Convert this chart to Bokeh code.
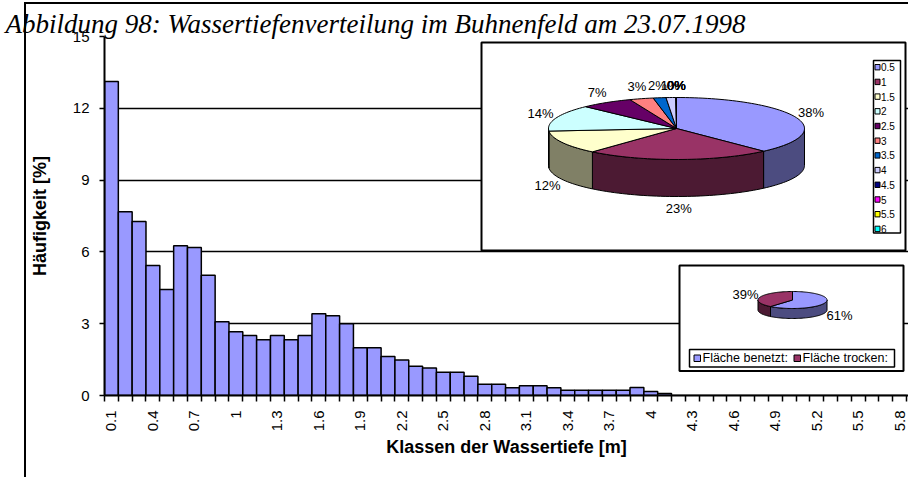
import math
from bokeh.plotting import figure
from bokeh.models import Range1d, FixedTicker, InlineStyleSheet
from bokeh.core.properties import value
from bokeh.embed import file_html
from bokeh.resources import INLINE

# ---------------- data ----------------
depth_classes = ["0.1", "0.2", "0.3", "0.4", "0.5", "0.6", "0.7", "0.8", "0.9", "1",
                 "1.1", "1.2", "1.3", "1.4", "1.5", "1.6", "1.7", "1.8", "1.9", "2",
                 "2.1", "2.2", "2.3", "2.4", "2.5", "2.6", "2.7", "2.8", "2.9", "3",
                 "3.1", "3.2", "3.3", "3.4", "3.5", "3.6", "3.7", "3.8", "3.9", "4",
                 "4.1", "4.2", "4.3", "4.4", "4.5", "4.6", "4.7", "4.8", "4.9", "5",
                 "5.1", "5.2", "5.3", "5.4", "5.5", "5.6", "5.7", "5.8"]
frequency = [13.12, 7.68, 7.27, 5.43, 4.43, 6.26, 6.18, 5.02, 3.08, 2.66,
             2.51, 2.33, 2.51, 2.33, 2.51, 3.42, 3.33, 3.00, 1.99, 1.99,
             1.63, 1.48, 1.22, 1.15, 0.97, 0.97, 0.80, 0.47, 0.47, 0.32,
             0.41, 0.41, 0.32, 0.22, 0.22, 0.22, 0.22, 0.22, 0.33, 0.17,
             0.08, 0.0, 0.0, 0.0, 0.0, 0.0, 0.0, 0.0, 0.0, 0.0,
             0.0, 0.0, 0.0, 0.0, 0.0, 0.0, 0.0, 0.0]
y_ticks = [0, 3, 6, 9, 12, 15]

pie_classes = ["0.5", "1", "1.5", "2", "2.5", "3", "3.5", "4", "4.5", "5", "5.5", "6"]
pie_values = [37.9, 23.2, 12.2, 13.7, 6.6, 3.0, 1.6, 1.2, 0.1, 0.0, 0.0, 0.0]
pie_colors = ["#9999FF", "#993366", "#FFFFCC", "#CCFFFF", "#660066", "#FF8080",
              "#0066CC", "#CCCCFF", "#000080", "#FF00FF", "#FFFF00", "#00FFFF"]

area_labels = ["Fläche benetzt:", "Fläche trocken:"]
area_values = [61, 39]
area_colors = ["#9999FF", "#993366"]

title_text = "Abbildung 98: Wassertiefenverteilung im Buhnenfeld am 23.07.1998"

# ---------------- figure ----------------
W, H = 908, 477
FL, FT, FH = 104, 36, 359          # frame position in page pixels
FW = W - FL
CAT_PX = 13.83                     # width of one class in pixels
N = len(depth_classes)

p = figure(frame_width=FW, frame_height=FH,
           min_border_left=FL, min_border_right=0, min_border_top=FT,
           min_border_bottom=H - FT - FH,
           x_range=Range1d(0, FW / CAT_PX), y_range=Range1d(0, 15),
           output_backend="svg", toolbar_location=None)
p.extra_x_ranges = {"px": Range1d(FL, FL + FW)}
p.extra_y_ranges = {"px": Range1d(FT + FH, FT)}
p.outline_line_color = None
p.background_fill_color = "white"
p.border_fill_color = "white"

FONT = "Liberation Sans"

# caption (title)
p.title.text = title_text
p.title.text_font = "Liberation Serif"
p.title.text_font_style = "italic"
p.title.text_font_size = "27px"
p.title.text_color = "black"
p.title.align = "left"
p.title.offset = -99
p.title.standoff = -8
p.title.vertical_align = "top"

# grid
p.xgrid.visible = False
p.ygrid.ticker = FixedTicker(ticks=[3, 6, 9, 12, 15])
p.ygrid.grid_line_color = "black"
p.ygrid.grid_line_width = 1.5

# y axis
p.yaxis.ticker = FixedTicker(ticks=y_ticks)
p.yaxis.axis_line_width = 2
p.yaxis.axis_line_color = "black"
p.yaxis.major_tick_out = 5
p.yaxis.major_tick_in = 0
p.yaxis.major_tick_line_width = 1.5
p.yaxis.major_tick_line_color = "black"
p.yaxis.minor_tick_line_color = None
p.yaxis.major_label_text_font = FONT
p.yaxis.major_label_text_font_size = "15px"
p.yaxis.major_label_text_color = "black"
p.yaxis.major_label_standoff = 10
p.yaxis.axis_label = "Häufigkeit [%]"
p.yaxis.axis_label_text_font = FONT
p.yaxis.axis_label_text_font_size = "18px"
p.yaxis.axis_label_text_font_style = "bold"
p.yaxis.axis_label_text_color = "black"
p.yaxis.axis_label_standoff = 20

# x axis
label_idx = list(range(0, N, 3))
label_pos = [i + 0.5 for i in label_idx]
p.xaxis.ticker = FixedTicker(ticks=label_pos, minor_ticks=list(range(0, N + 1)))
p.xaxis.major_label_overrides = {i + 0.5: depth_classes[i] for i in label_idx}
p.xaxis.axis_line_width = 2
p.xaxis.axis_line_color = "black"
p.xaxis.major_tick_out = 0
p.xaxis.major_tick_in = 0
p.xaxis.major_tick_line_color = None
p.xaxis.minor_tick_out = 6
p.xaxis.minor_tick_in = 0
p.xaxis.minor_tick_line_width = 1.5
p.xaxis.minor_tick_line_color = "black"
p.xaxis.major_label_orientation = math.pi / 2
p.xaxis.major_label_text_font = FONT
p.xaxis.major_label_text_font_size = "15px"
p.xaxis.major_label_text_color = "black"
p.xaxis.major_label_standoff = 9
p.xaxis.axis_label = "Klassen der Wassertiefe [m]"
p.xaxis.axis_label_text_font = FONT
p.xaxis.axis_label_text_font_size = "18px"
p.xaxis.axis_label_text_font_style = "bold"
p.xaxis.axis_label_text_color = "black"
p.xaxis.axis_label_standoff = 3

# bars
centers = [i + 0.5 for i in range(N)]
p.vbar(x=centers, top=frequency, bottom=0, width=1,
       fill_color="#9999FF", line_color="black", line_width=1.5)

PX = dict(x_range_name="px", y_range_name="px")


def darken(hx, f=0.5):
    r, g, b = int(hx[1:3], 16), int(hx[3:5], 16), int(hx[5:7], 16)
    return "#%02X%02X%02X" % (int(round(r * f)), int(round(g * f)), int(round(b * f)))


def arc(cx, cy, rx, ry, a0, a1, dy=0.0):
    steps = max(2, int(abs(a1 - a0) / 2) + 1)
    pts = []
    for k in range(steps + 1):
        t = math.radians(a0 + (a1 - a0) * k / steps)
        pts.append((cx + rx * math.sin(t), cy + dy - ry * math.cos(t)))
    return pts


def draw_pie(values, colors, cx, cy, rx, ry, depth, kx, ky, fsize):
    total = float(sum(values))
    starts, ends = [], []
    acc = 0.0
    for v in values:
        starts.append(acc * 360.0 / total)
        acc += v
        ends.append(acc * 360.0 / total)
    sx, sy, sc = [], [], []
    tx, ty, tc = [], [], []
    for a, b, col in zip(starts, ends, colors):
        lo, hi = max(a, 90.0), min(b, 270.0)
        if hi > lo:
            pts = arc(cx, cy, rx, ry, lo, hi) + arc(cx, cy, rx, ry, hi, lo, dy=depth)
            sx.append([q[0] for q in pts]); sy.append([q[1] for q in pts]); sc.append(darken(col))
        if b > a:
            pts = [(cx, cy)] + arc(cx, cy, rx, ry, a, b)
            tx.append([q[0] for q in pts]); ty.append([q[1] for q in pts]); tc.append(col)
    p.patches(sx, sy, fill_color=sc, line_color="black", line_width=1, **PX)
    p.patches(tx, ty, fill_color=tc, line_color="black", line_width=1, **PX)
    lx, ly, lt = [], [], []
    for a, b, v in zip(starts, ends, values):
        m = math.radians((a + b) / 2.0)
        c = math.cos(m)
        lx.append(cx + rx * kx * math.sin(m))
        if c < 0:
            ly.append(cy + depth - ry * ky * c)
        else:
            ly.append(cy - ry * ky * c)
        lt.append("%d%%" % int(v * 100.0 / total + 0.5))
    p.text(x=lx, y=ly, text=lt, text_align="center", text_baseline="middle",
           text_font=value(FONT), text_font_size=fsize, text_color="black", **PX)


# ---- inset 1: pie of classes ----
p.quad(left=[481], right=[905], top=[42], bottom=[250], fill_color="white",
       line_color="black", line_width=2, **PX)
draw_pie(pie_values, pie_colors, 676, 128, 128, 31, 37, 1.13, 1.4, "13px")

# legend 1
p.quad(left=[873], right=[900], top=[60], bottom=[232.5], fill_color="white",
       line_color="black", line_width=1.5, **PX)
leg_y = [66.7 + 14.7 * i for i in range(len(pie_classes))]
p.quad(left=[874.5] * len(leg_y), right=[879.5] * len(leg_y),
       top=[y - 2.7 for y in leg_y], bottom=[y + 2.7 for y in leg_y],
       fill_color=pie_colors, line_color="black", line_width=1, **PX)
p.text(x=[880.5] * len(leg_y), y=leg_y, text=pie_classes, text_align="left",
       text_baseline="middle", text_font=value(FONT), text_font_size="10px",
       text_color="black", **PX)

# ---- inset 2: wet / dry ----
p.quad(left=[679], right=[903], top=[265], bottom=[370.5], fill_color="white",
       line_color="black", line_width=2, **PX)
draw_pie(area_values, area_colors, 792, 299.5, 34.5, 8.5, 10, 1.45, 2.0, "13px")
p.quad(left=[689], right=[894], top=[349], bottom=[366.5], fill_color="white",
       line_color="black", line_width=1.5, **PX)
p.quad(left=[693.5, 793.5], right=[700, 800], top=[354.5, 354.5], bottom=[361, 361],
       fill_color=area_colors, line_color="black", line_width=1, **PX)
p.text(x=[702, 802], y=[357.8, 357.8], text=area_labels, text_align="left",
       text_baseline="middle", text_font=value(FONT), text_font_size="12.5px",
       text_color="black", **PX)

# ---- outer chart border (left and top edge of the embedded chart object) ----
p.stylesheets = [InlineStyleSheet(css="""
:host { position: relative; }
:host::before { content: ""; position: absolute; left: 24px; top: 2px; width: 884px;
                height: 2px; background: black; pointer-events: none; z-index: 5; }
:host::after  { content: ""; position: absolute; left: 24px; top: 2px; width: 2px;
                height: 475px; background: black; pointer-events: none; z-index: 5; }
""")]

open("out.html", "w").write(file_html(p, INLINE))
